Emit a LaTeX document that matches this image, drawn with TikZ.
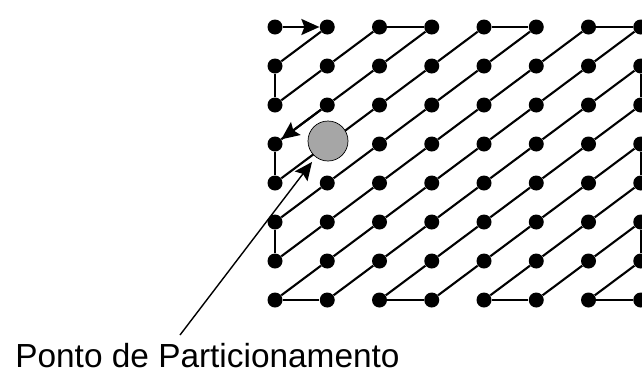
\documentclass[tikz,border=0pt]{standalone}
\usepackage{fontspec}
\setmainfont{Liberation Sans}
\usetikzlibrary{arrows.meta}
\begin{document}
\begin{tikzpicture}[
  dot/.style={circle, fill=black, inner sep=0pt, minimum size=0.3cm},
  link/.style={line width=1.2pt},
  arrow/.style={line width=1.2pt, -{Stealth[length=0.36cm, width=0.32cm, inset=0.06cm]}},
  partpoint/.style={circle, draw=black, fill=black!35, minimum size=0.8cm, inner sep=0pt},
  caption/.style={font=\fontsize{19}{22}\selectfont, anchor=base west, inner sep=0pt}
]
\useasboundingbox (0,0) rectangle (12.84,7.52);
\foreach \i in {0,...,7}
  \foreach \j in {0,...,7}
    \node[dot] (d-\i-\j) at ({5.5+1.045*\i},{6.98-0.78*\j}) {};

% diagonals
\foreach \i in {0,...,6}
  \foreach \j in {1,...,7} {
    \pgfmathtruncatemacro\ni{\i+1}
    \pgfmathtruncatemacro\pj{\j-1}
    \draw[link] (d-\i-\j) -- (d-\ni-\pj);
  }
% turns at the edges
\foreach \a/\b in {2/3,4/5,6/7}
  \draw[link] (d-\a-0) -- (d-\b-0);
\foreach \a/\b in {0/1,2/3,4/5,6/7}
  \draw[link] (d-\a-7) -- (d-\b-7);
\foreach \a/\b in {1/2,3/4,5/6} {
  \draw[link] (d-0-\a) -- (d-0-\b);
  \draw[link] (d-7-\a) -- (d-7-\b);
}
\draw[arrow] (d-0-0) -- (d-1-0);
\draw[arrow] (d-1-2) -- (d-0-3);

\node[partpoint] (part) at (6.56,4.70) {};
\node[caption] (label) at (0.30,0.18) {Ponto de Particionamento};
\coordinate (tail) at (3.6,0.82);
\draw[arrow, line width=0.8pt, shorten >=0.12cm] (tail) -- (part);
\end{tikzpicture}
\end{document}
